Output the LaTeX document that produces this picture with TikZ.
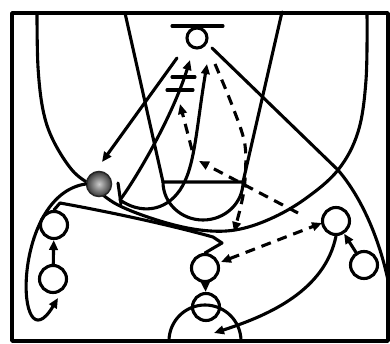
\documentclass[tikz,border=0pt]{standalone}
\usetikzlibrary{arrows.meta}
\begin{document}
\begin{tikzpicture}[x=1pt,y=-1pt,
  ln/.style={line width=3.1pt,line cap=round,line join=round},
  tip/.style={-{Triangle[length=10pt,width=8.5pt]}},
  dsh/.style={ln,dash pattern=on 10pt off 7pt,line cap=butt},
  player/.style={circle,draw,line width=3.1pt,minimum size=27pt,inner sep=0pt},
  ballst/.style={circle,draw=black!85,line width=1.5pt,minimum size=25pt,inner sep=0pt,inner color=gray!40,outer color=black!78}]
\useasboundingbox (0,0) rectangle (390,344);
% court
\draw[ln,line width=3.5pt] (12,13) rectangle (388,341);
\draw[ln] (172,26) -- (223,26);
\node[player,minimum size=20pt] (basket) at (197,38) {};
\draw[ln] (125,13) -- (163,182) -- (243,182) -- (282,12);
\draw[ln] (243,182) arc[start angle=0,end angle=180,x radius=40,y radius=38];
\draw[ln] (169,341) arc[start angle=180,end angle=360,radius=36];
\draw[ln] plot[smooth,tension=0.6] coordinates {(37,13) (38,67) (43,110) (53,140) (72,170) (92,186) (118,205) (160,221) (200,230) (235,230) (270,219) (305,199) (338,170) (358,132) (366,80) (367,13)};
% players
\node[player] (p1) at (54,225) {};
\node[player] (p2) at (53,279) {};
\node[player] (p3) at (205,268) {};
\node[player] (p4) at (206,307) {};
\node[player] (p5) at (336,221) {};
\node[player] (p6) at (364,265) {};
\node[ballst] (ball) at (99,184) {};
% named ends
\coordinate (s1a) at (177,58);
\coordinate (s1b) at (102,162);
\coordinate (scr) at (120,200);
\coordinate (s3a) at (212,48);
\coordinate (s3b) at (338,170);
\coordinate (s3c) at (389,285);
\coordinate (d2a) at (298,213);
\coordinate (d2b) at (199,161);
\coordinate (d3a) at (192,150);
\coordinate (d3b) at (180,104);
\coordinate (d4a) at (221,262);
\coordinate (d4b) at (322,223);
\coordinate (l1a) at (60,203);
\coordinate (l1b) at (213,237);
% solid paths
\draw[ln,tip] (s1a) -- (s1b);
\draw[ln,tip] (scr) .. controls (135,180) and (172,118) .. (190,60);
\draw[ln] (172,77) -- (195,77);
\draw[ln] (167,90) -- (193,90);
\draw[ln] (118,183) -- (121,204);
\draw[ln,tip] (scr) .. controls (140,214) and (165,212) .. (180,190) .. controls (195,168) and (196,130) .. (207,64);
\draw[ln] (s3a) -- (s3b) .. controls (362,198) and (380,240) .. (s3c);
\draw[ln,tip] (ball.west) .. controls (10,195) and (15,370) .. (58,298);
\draw[ln] (p1.north) -- (l1a) .. controls (110,212) and (170,225) .. (l1b) -- (222,243) -- (p3.north);
\draw[ln,tip] (p5.south) .. controls (325,290) and (270,315) .. (214,333);
\draw[ln,tip] (p6) -- (p5);
\draw[ln,tip] (p2) -- (p1);
\draw[ln,tip] (p3) -- (p4);
% passes (dashed)
\draw[dsh,tip] plot[smooth] coordinates {(215,64) (232,105) (245,145) (244,190) (234,232)};
\draw[dsh,tip] (d2a) -- (d2b);
\draw[dsh,tip] (d3a) -- (d3b);
\draw[dsh,{Triangle[length=10pt,width=8.5pt]}-{Triangle[length=10pt,width=8.5pt]}] (d4a) -- (d4b);
\end{tikzpicture}
\end{document}
